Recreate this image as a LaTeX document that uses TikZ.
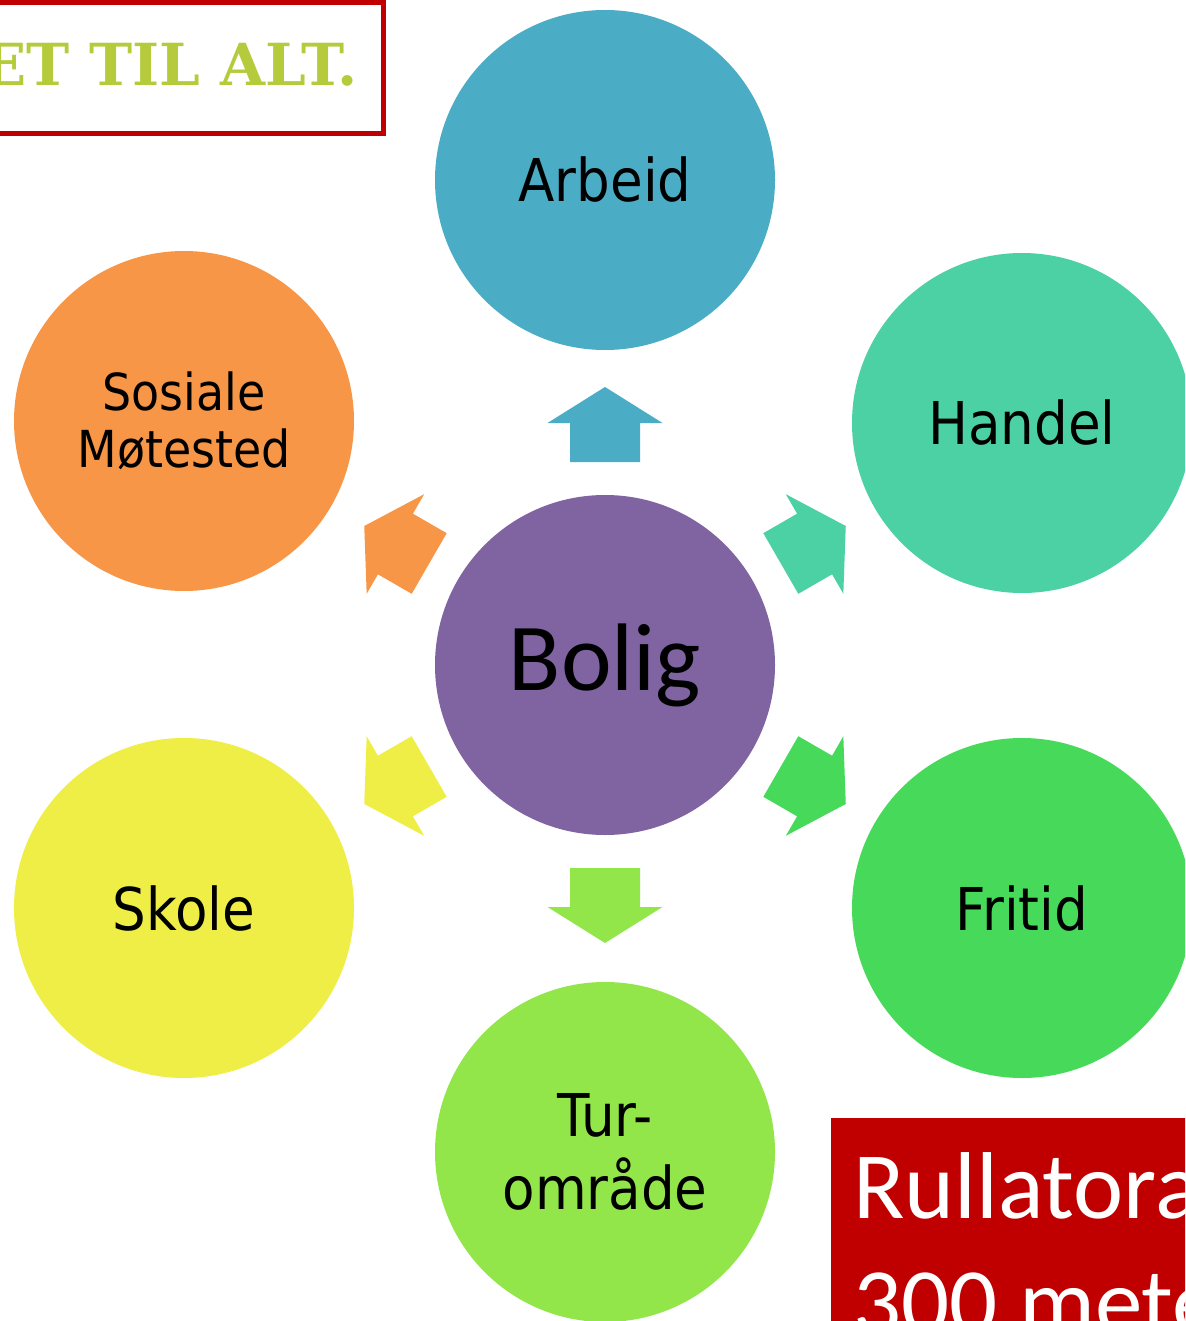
\documentclass[tikz,border=0pt]{standalone}
\usepackage{fontspec}
\setmainfont{DejaVu Sans Condensed}
\newfontfamily\calib{Carlito}
\newfontfamily\stencil{DejaVu Serif}
\definecolor{arbeidc}{HTML}{4BACC6}
\definecolor{handelc}{HTML}{4BD1A4}
\definecolor{fritidc}{HTML}{47DA5A}
\definecolor{turc}{HTML}{92E64A}
\definecolor{skolec}{HTML}{EEEE46}
\definecolor{sosc}{HTML}{F79646}
\definecolor{boligc}{HTML}{8064A2}
\definecolor{redbox}{HTML}{C00000}
\definecolor{logogreen}{HTML}{B5CB3C}
\begin{document}
\begin{tikzpicture}[x=1pt,y=-1pt,
  circ/.style={circle, minimum size=340pt, inner sep=0pt, draw=none, align=center, text=black,
    font=\fontsize{59}{60}\selectfont},
  smalltxt/.style={font=\fontsize{51}{57}\selectfont},
  turtxt/.style={font=\fontsize{59}{73}\selectfont}]
\useasboundingbox (0,0) rectangle (1185,1321);
\clip (0,0) rectangle (1185,1321);
% top-left logo box
\node[draw=redbox, line width=5pt, minimum width=420pt, minimum height=131pt, anchor=north east, inner sep=0pt] (logo) at (386,0) {};
\node[anchor=base east, inner sep=0pt, text=logogreen, font=\stencil\bfseries\fontsize{58}{60}\selectfont] (logotxt) at (358,86) {ET TIL ALT.};
% circles
\node[circ, fill=boligc, font=\calib\fontsize{96}{100}\selectfont] (bolig) at (605,665) {Bolig};
\node[circ, fill=arbeidc] (arbeid) at (605,180) {Arbeid};
\node[circ, fill=handelc] (handel) at (1022,423) {Handel};
\node[circ, fill=fritidc] (fritid) at (1022,908) {Fritid};
\node[circ, fill=turc, turtxt] (tur) at (605,1152) {Tur-\\område};
\node[circ, fill=skolec] (skole) at (184,908) {Skole};
\node[circ, fill=sosc, smalltxt] (sos) at (184,421) {Sosiale\\Møtested};
% block arrows
\foreach \ang/\col in {90/arbeidc, 30/handelc, -30/fritidc, -90/turc, 210/skolec, 150/sosc}{
  \fill[\col, shift={(bolig.center)}, rotate=\ang]
    (203,-35) -- (242,-35) -- (242,-57.5) -- (278,0) -- (242,57.5) -- (242,35) -- (203,35) -- cycle;
}
% red box bottom right
\fill[redbox] (831,1118) rectangle (1200,1340);
\node[anchor=base west, inner sep=0pt, text=white, font=\calib\fontsize{95}{100}\selectfont] (rull) at (853,1218) {Rullatora};
\node[anchor=base west, inner sep=0pt, text=white, font=\calib\fontsize{95}{100}\selectfont] (meter) at (853,1334) {300 meter};
\end{tikzpicture}
\end{document}
